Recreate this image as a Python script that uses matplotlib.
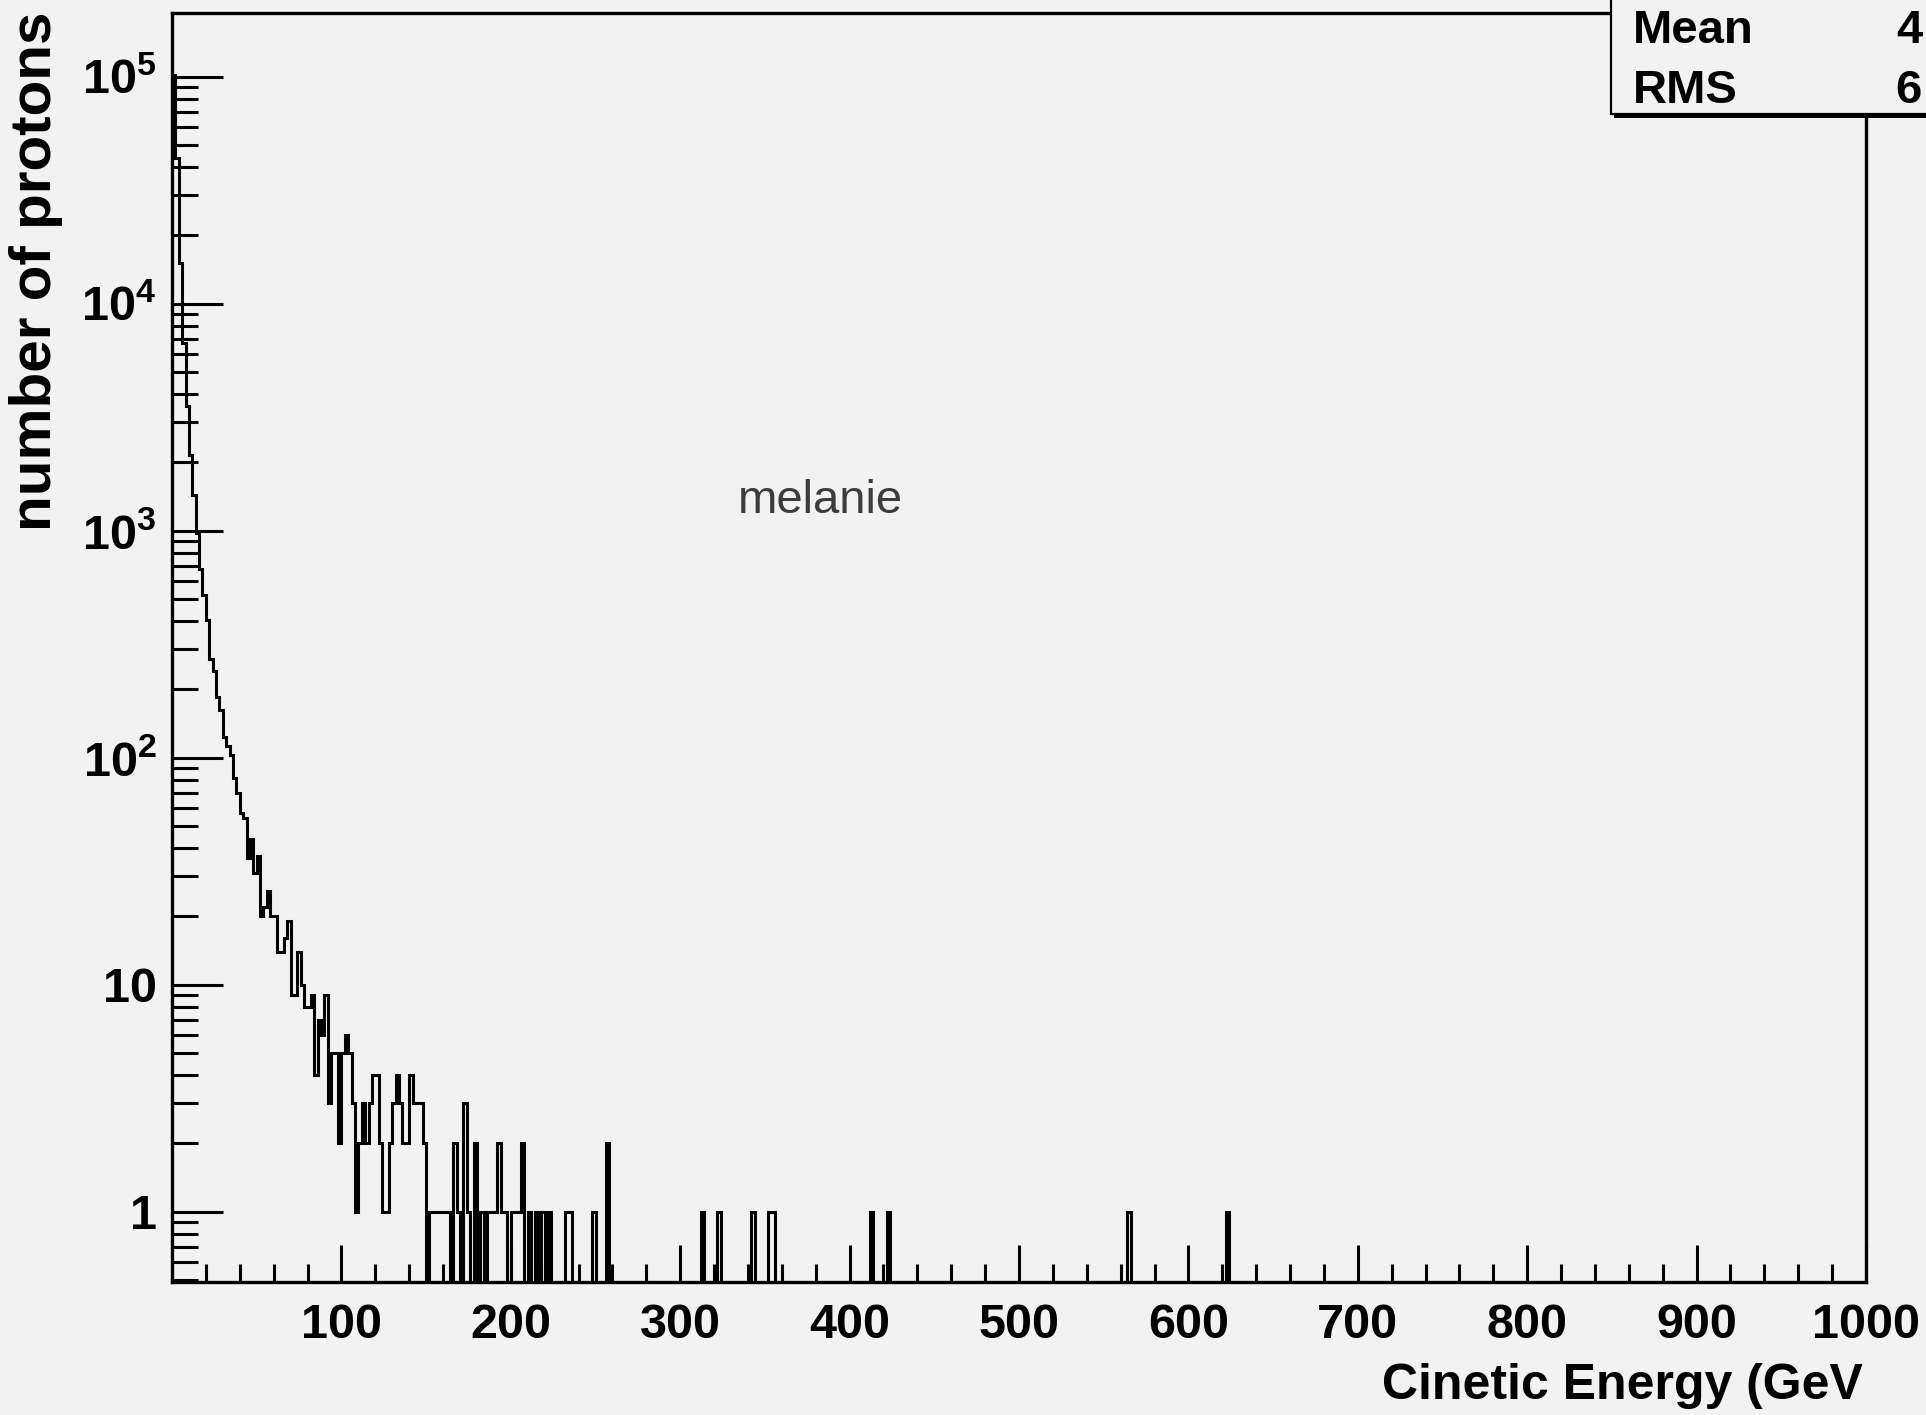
import matplotlib
matplotlib.use('Agg')
import matplotlib.pyplot as plt
import numpy as np
from matplotlib.ticker import (FixedLocator, FixedFormatter, LogLocator,
                               MultipleLocator, NullFormatter, FuncFormatter)
from matplotlib.patches import Rectangle

plt.rcParams['font.family'] = ['Liberation Sans', 'DejaVu Sans']
plt.rcParams['mathtext.fontset'] = 'custom'
plt.rcParams['mathtext.rm'] = 'Liberation Sans:bold'
plt.rcParams['mathtext.it'] = 'Liberation Sans:bold'
plt.rcParams['mathtext.bf'] = 'Liberation Sans:bold'

# histogram: 500 bins of 2 GeV between 0 and 1000 GeV
bin_width = 2.0
n_bins = 500

# counts of the first bins (0-258 GeV)
head_counts = [
    102000, 43800, 15100, 6700, 3530, 2160, 1430, 980, 680, 523,
    405, 272, 240, 186, 162, 124, 113, 103, 81, 70,
    57, 54, 36, 44, 31, 37, 20, 22, 26, 20,
    20, 14, 14, 16, 19, 9, 9, 14, 10, 8,
    8, 9, 4, 7, 6, 9, 3, 5, 5, 2,
    5, 6, 5, 3, 1, 2, 3, 2, 3, 4,
    4, 2, 1, 1, 2, 3, 4, 3, 2, 2,
    4, 3, 3, 3, 2, 0, 1, 1, 1, 1,
    1, 1, 0, 2, 1, 0, 3, 1, 0, 2,
    0, 1, 0, 1, 1, 1, 2, 1, 1, 0,
    1, 1, 1, 2, 0, 1, 0, 1, 0, 1,
    0, 1, 0, 0, 0, 0, 1, 1, 0, 0,
    0, 0, 0, 0, 1, 0, 0, 0, 2,
]

# isolated entries further out (bin low edge in GeV, count)
tail_energy = [312, 322, 342, 352, 354, 412, 422, 564, 622]
tail_counts = [1, 1, 1, 1, 1, 1, 1, 1, 1]

x_ticks = [100, 200, 300, 400, 500, 600, 700, 800, 900, 1000]
y_ticks = [1, 10, 1e2, 1e3, 1e4, 1e5]
y_tick_labels = ['1', '10', '$10^{2}$', '$10^{3}$', '$10^{4}$', '$10^{5}$']

counts = np.zeros(n_bins)
counts[:len(head_counts)] = head_counts
for e, c in zip(tail_energy, tail_counts):
    counts[int(e / bin_width)] = c
edges = np.arange(n_bins + 1) * bin_width

bg = '#f2f2f2'
W, H = 1926, 1415
fig = plt.figure(figsize=(W / 100, H / 100), dpi=100, facecolor=bg)
ax = fig.add_axes([172 / W, 1 - 1282 / H, (1866 - 172) / W, (1282 - 13) / H])
ax.set_facecolor(bg)

# empty bins drop to the bottom of the frame like ROOT does
vals = np.where(counts > 0, counts, 1e-3)
ax.stairs(vals, edges, baseline=None, color='black', linewidth=2.2)

ax.set_yscale('log')
ax.set_xlim(0, 1000)
ax.set_ylim(0.49, 1.91e5)

ax.xaxis.set_major_locator(FixedLocator(x_ticks))
ax.xaxis.set_major_formatter(FuncFormatter(lambda v, p: '%d' % v))
ax.xaxis.set_minor_locator(MultipleLocator(20))
ax.yaxis.set_major_locator(FixedLocator(y_ticks))
ax.yaxis.set_major_formatter(FixedFormatter(y_tick_labels))
ax.yaxis.set_minor_locator(LogLocator(base=10, subs=np.arange(2, 10), numticks=60))
ax.yaxis.set_minor_formatter(NullFormatter())

ax.tick_params(axis='x', which='major', direction='in', length=27, width=2.2,
               pad=15, labelsize=35, top=False)
ax.tick_params(axis='x', which='minor', direction='in', length=13, width=2.2, top=False)
ax.tick_params(axis='y', which='major', direction='in', length=37, width=2.2,
               pad=11, labelsize=35, right=False)
ax.tick_params(axis='y', which='minor', direction='in', length=19, width=2.2, right=False)
for lab in ax.get_xticklabels() + ax.get_yticklabels():
    lab.set_fontweight('bold')
for s in ax.spines.values():
    s.set_linewidth(2.4)

fig.text(1863 / W, 1 - 1399 / H, 'Cinetic Energy (GeV', ha='right', va='baseline',
         fontsize=36, fontweight='bold')
fig.text(36 / W, 1 - 12 / H, 'number of protons', rotation=90, ha='center', va='top',
         fontsize=42, fontweight='bold')
fig.text(820 / W, 1 - 513 / H, 'melanie', ha='center', va='baseline',
         fontsize=34, color='#3c3c3c')

# stats box, cut by the right edge of the canvas
shadow = Rectangle((1614 / W, 1 - 118 / H), 400 / W, 200 / H, transform=fig.transFigure,
                   facecolor='black', edgecolor='none', zorder=5)
box = Rectangle((1611 / W, 1 - 114 / H), 400 / W, 200 / H, transform=fig.transFigure,
                facecolor=bg, edgecolor='black', linewidth=1.6, zorder=6)
fig.patches.extend([shadow, box])
fig.text(1633 / W, 1 - 43 / H, 'Mean', ha='left', va='baseline', fontsize=34,
         fontweight='bold', zorder=7)
fig.text(1922 / W, 1 - 43 / H, '4', ha='right', va='baseline', fontsize=34,
         fontweight='bold', zorder=7)
fig.text(1633 / W, 1 - 103 / H, 'RMS', ha='left', va='baseline', fontsize=34,
         fontweight='bold', zorder=7)
fig.text(1922 / W, 1 - 103 / H, '6', ha='right', va='baseline', fontsize=34,
         fontweight='bold', zorder=7)

fig.savefig('out.png', dpi=100, facecolor=bg)
